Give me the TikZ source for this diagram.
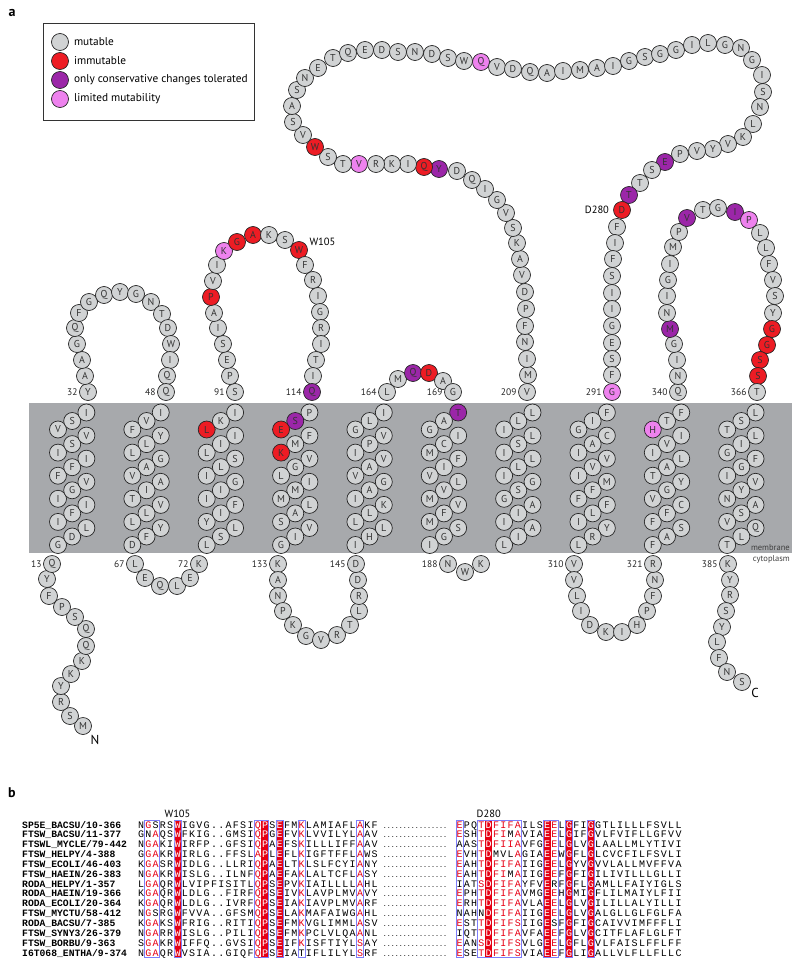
\documentclass[tikz,border=0pt]{standalone}
\usepackage{fontspec}
\setmainfont{PT Sans}
\newfontfamily\alnmono{Liberation Mono}
\usetikzlibrary{positioning}

\definecolor{mutgray}{RGB}{209,211,212}
\definecolor{immred}{RGB}{237,28,36}
\definecolor{conspurple}{RGB}{155,38,168}
\definecolor{limpink}{RGB}{238,130,238}
\definecolor{membran}{RGB}{167,169,172}
\definecolor{alnred}{RGB}{230,0,20}
\definecolor{alnblue}{RGB}{125,125,250}

\tikzset{
	mut/.style={circle, draw=black!85, line width=0.7pt, fill=mutgray, minimum size=17pt, inner sep=0pt, text=black!80, font=\fontsize{10}{10}\selectfont},
	imm/.style={mut, fill=immred},
	cons/.style={mut, fill=conspurple},
	lim/.style={mut, fill=limpink},
	numlab/.style={inner sep=0pt, text=black!85, font=\fontsize{9.5}{9.5}\selectfont},
	sitelab/.style={inner sep=0pt, font=\fontsize{10.5}{10.5}\selectfont},
	legtext/.style={inner sep=0pt, anchor=west, font=\fontsize{11.3}{11.3}\selectfont},
	memlab/.style={inner sep=0pt, anchor=east, text=black!75, font=\fontsize{8.5}{8.5}\selectfont},
	panel/.style={inner sep=0pt, font=\fontsize{14}{14}\selectfont\bfseries},
	term/.style={inner sep=0pt, font=\fontsize{13}{13}\selectfont},
	seqch/.style={inner sep=0pt, text height=6pt, text depth=0pt, font=\alnmono\fontsize{10}{10}\selectfont},
	alnname/.style={inner sep=0pt, anchor=west, text height=6pt, text depth=0pt, font=\alnmono\bfseries\fontsize{9.7}{10}\selectfont},
	alndots/.style={inner sep=0pt, text height=6pt, text depth=0pt, font=\alnmono\fontsize{6.7}{7}\selectfont},
	alnframe/.style={draw=alnblue, line width=0.6pt},
}

% Farbe der Reste (Standard: mut)
\foreach \rn/\rt in {88/imm, 97/imm, 101/imm, 102/imm, 105/imm, 117/imm, 120/imm, 167/imm, 226/imm, 233/imm, 280/imm, 362/imm, 363/imm, 364/imm, 365/imm,
	114/cons, 116/cons, 166/cons, 170/cons, 225/cons, 276/cons, 279/cons, 344/cons, 351/cons, 354/cons,
	100/lim, 230/lim, 249/lim, 291/lim, 337/lim, 355/lim}
	{\expandafter\xdef\csname rt\rn\endcsname{\rt}}
\newcommand\restype[1]{\ifcsname rt#1\endcsname\edef\ty{\csname rt#1\endcsname}\else\def\ty{mut}\fi}

% Schleifen: erste Nummer, Liste x/y/Buchstabe
\newcommand\loopres[2]{%
	\foreach \x/\y/\rl [count=\n from #1] in {#2} {
		\restype{\n}
		\node[\ty] (r\n) at (\x,\y) {\rl};
	}}

% Helix: Nummer, erster Rest, 1 = aufwaerts / 0 = abwaerts, Buchstaben
\newcommand\helix[4]{%
	\foreach \rl [count=\i from 0] in {#4} {
		\pgfmathtruncatemacro\k{#3==1 ? \i : 17-\i}
		\pgfmathtruncatemacro\n{#2+\i}
		\pgfmathsetmacro\hx{58+74.35*(#1-1)+14.2*mod(\k,3)}
		\pgfmathsetmacro\hy{545-7.7*\k-0.8*mod(\k,3)}
		\restype{\n}
		\node[\ty] (r\n) at (\hx,\hy) {\rl};
	}}

% Alignment: klein = rot, * = weiss auf rot
\newcount\seqcol
\newif\ifseqwhite
\newcommand\seqrow[4]{\def\seqname{#1}\def\seqx{#2}\def\seqy{#3}\global\seqcol=0 \seqwhitefalse\seqnext#4\relax}
\def\seqnext#1{%
	\ifx#1\relax\let\seqgo\relax
	\else\ifx#1*\seqwhitetrue\def\seqgo{\seqnext}%
	\else\def\seqgo{\seqput{#1}\seqnext}\fi\fi
	\seqgo}
\def\seqput#1{%
	\ifseqwhite\def\seqcolor{white}\else
		\ifnum`#1>`Z\relax\def\seqcolor{alnred}\else\def\seqcolor{black}\fi
	\fi
	\uppercase{\def\seqchar{#1}}%
	\node[seqch, text=\seqcolor] (\seqname c\the\seqcol) at (\seqx+7.3*\the\seqcol, \seqy) {\seqchar};
	\global\advance\seqcol by 1\relax
	\seqwhitefalse}
\newcommand\alnrow[4]{%
	\pgfmathsetmacro\ry{825+9.85*(#1-1)}
	\node[alnname] (name#1) at (22,\ry) {#2};
	\seqrow{p1r#1}{141}{\ry}{#3}
	\node[alndots] (dots#1) at (415,\ry) {................};
	\seqrow{p2r#1}{459.5}{\ry}{#4}}
\newcommand\alnfill[2]{\fill[alnred] ({#1+7.3*#2-3.65},820) rectangle ({#1+7.3*#2+3.65},957);}
\newcommand\alnbox[3]{\draw[alnframe] ({#1+7.3*#2-3.65},820) rectangle ({#1+7.3*#3+3.65},957);}

\begin{document}
\begin{tikzpicture}[x=1pt, y=-1pt]
	\useasboundingbox (0,0) rectangle (800,966);

	\node[panel] (pa) at (12,13) {a};

	% Legende
	\draw[line width=0.7pt, draw=black!80] (43,23) rectangle (254,120);
	\node[mut] (leg1) at (60,42) {};
	\node[imm] (leg2) at (60,61) {};
	\node[cons] (leg3) at (60,80) {};
	\node[lim] (leg4) at (60,99) {};
	\node[legtext, right=5pt of leg1] (legt1) {mutable};
	\node[legtext, right=5pt of leg2] (legt2) {immutable};
	\node[legtext, right=5pt of leg3] (legt3) {only conservative changes tolerated};
	\node[legtext, right=5pt of leg4] (legt4) {limited mutability};

	% Membran
	\fill[membran] (29,403) rectangle (792,553);
	\node[memlab] (memtxt) at (790,548) {membrane};
	\node[memlab] (cyttxt) at (790,559) {cytoplasm};

	% Helices
	\helix{1}{14}{1}{G,D,L,I,F,I,I,G,V,F,F,I,I,S,V,V,S,I}
	\helix{2}{49}{0}{I,V,F,Y,L,L,G,A,V,A,I,T,V,L,L,Y,F,D}
	\helix{3}{73}{1}{L,S,L,Y,I,F,I,I,G,I,L,S,L,I,I,L,K,I}
	\helix{4}{115}{0}{P,S,E,F,M,K,V,G,L,I,M,M,L,A,S,V,I,G}
	\helix{5}{146}{1}{I,H,L,L,L,K,I,A,G,V,A,V,I,P,V,G,L,I}
	\helix{6}{170}{0}{T,A,G,I,C,M,F,I,V,L,V,M,V,F,M,S,G,I}
	\helix{7}{191}{1}{L,I,A,I,I,A,G,S,G,I,L,L,I,S,L,I,L,L}
	\helix{8}{292}{0}{F,I,G,C,A,I,V,V,I,M,F,F,F,L,I,Y,R,L}
	\helix{9}{322}{1}{F,A,S,F,F,C,V,G,Y,T,A,L,I,V,I,H,T,F}
	\helix{10}{367}{0}{L,S,T,L,I,G,F,G,I,V,Y,N,A,S,V,Q,L,T}

	% Schleifen
	\loopres{1}{83/726/M, 70/716/S, 61/702/R, 61/686/Y, 71/674/K, 82/661/K, 86/646/Q, 86/629/Q, 75/617/S, 62/607/P, 49/596/F, 47/579/Y, 52/564/Q}
	\loopres{32}{88/392/Y, 85/376/A, 82/360/A, 77/344/G, 75/328/Q, 79/313/F, 89/302/G, 104/295/Q, 120/292/Y, 136/294/G, 151/302/N, 162/314/T, 168/328/D, 171/344/W, 170/360/I, 167/376/Q, 166/392/Q}
	\loopres{67}{135/564/L, 145/578/E, 160/586/Q, 177/586/L, 190/578/E, 199/564/K}
	\loopres{91}{235/392/S, 230/376/P, 227/360/E, 223/344/S, 218/328/I, 214/313/A, 211/297/P, 213/281/V, 217/265/I, 224/251/K, 237/242/G, 253/235/A, 269/235/K, 285/240/S, 299/250/W, 305/265/F, 313/280/R, 318/296/I, 320/312/G, 321/328/R, 321/344/I, 316/360/T, 313/376/I, 312/392/Q}
	\loopres{133}{278/564/K, 278/580/A, 278/596/N, 283/611/P, 293/625/K, 306/636/G, 321/640/V, 337/635/R, 350/625/T, 359/611/L, 359/596/R, 358/580/D, 356/564/D}
	\loopres{164}{387/392/L, 398/379/M, 413/373/Q, 429/373/D, 443/381/A, 453/392/G}
	\loopres{188}{448/564/N, 465/572/W, 481/564/K}
	\loopres{209}{527/392/V, 528/375/M, 527/359/I, 525/342/N, 525/326/F, 526/309/P, 525/292/D, 522/275/V, 520/259/A, 517/243/K, 513/228/S, 506/213/V, 497/200/G, 485/189/I, 472/180/Q, 457/171/D, 439/169/Y, 424/167/Q, 408/164/I, 392/164/K, 376/164/R, 359/164/V, 343/164/T, 328/157/S, 315/147/W, 303/135/V, 293/122/S, 292/106/A, 297/90/S, 305/78/N, 318/68/E, 333/58/T, 348/53/Q, 365/50/E, 382/50/D, 398/52/S, 415/52/N, 432/54/D, 448/58/S, 464/61/W, 481/62/Q, 497/67/V, 513/69/D, 530/72/Q, 547/73/A, 563/71/I, 580/70/M, 597/68/A, 613/66/I, 629/61/G, 645/57/S, 660/54/G, 676/50/G, 692/45/I, 708/43/L, 725/45/G, 741/48/N, 752/60/G, 762/75/I, 763/92/S, 760/107/N, 753/124/L, 743/137/K, 728/144/V, 713/149/Y, 697/151/V, 680/154/P, 665/162/E, 652/170/S, 640/183/T, 629/195/T, 622/210/D, 617/227/F, 615/243/I, 613/259/F, 612/276/S, 612/293/I, 612/309/I, 612/326/G, 612/343/E, 612/359/S, 612/375/F, 612/392/G}
	\loopres{310}{574/564/V, 574/580/V, 577/596/L, 581/611/I, 590/625/D, 606/632/K, 622/632/I, 637/625/H, 647/611/P, 653/596/F, 655/580/N, 653/564/R}
	\loopres{340}{678/392/Q, 678/376/N, 677/360/I, 674/344/G, 670/329/M, 667/313/N, 667/296/I, 668/280/G, 670/264/I, 673/247/M, 679/232/P, 687/218/V, 703/210/T, 718/208/G, 735/212/I, 749/220/P, 760/233/L, 766/248/L, 769/264/F, 773/280/V, 775/296/S, 773/313/Y, 772/329/G, 767/345/G, 760/360/S, 758/376/S, 757/392/T}
	\loopres{385}{728/564/K, 730/580/Y, 730/595/R, 726/611/S, 722/627/Y, 717/642/L, 719/658/F, 727/672/N, 742/682/S}

	% Nummern
	\foreach \nl in {13,32,48,67,72,91,114,133,145,164,169,188,209,291,310,321,340,366,385}
		\node[numlab, left=1.5pt of r\nl] (l\nl) {\nl};
	\node[sitelab, right=1.5pt of r105, yshift=8pt] (w105) {W105};
	\node[sitelab, left=4pt of r280] (d280) {D280};
	\node[term] (nterm) at (95,740) {N};
	\node[term] (cterm) at (755,693) {C};

	% Alignment
	\node[panel] (pb) at (12,793) {b};
	\alnfill{141}{5} \alnfill{141}{17} \alnfill{141}{19}
	\alnfill{459.5}{4} \alnfill{459.5}{12} \alnfill{459.5}{15} \alnfill{459.5}{18}
	\alnbox{141}{1}{2} \alnbox{141}{5}{5} \alnbox{141}{16}{17} \alnbox{141}{19}{19} \alnbox{141}{22}{22} \alnbox{141}{30}{30}
	\alnbox{459.5}{0}{0} \alnbox{459.5}{3}{8} \alnbox{459.5}{12}{13} \alnbox{459.5}{15}{15} \alnbox{459.5}{18}{18}
	\alnrow{1}{SP5E\_BACSU/10-366}{NgSRS*WIGVG..AFSIq*PS*EFMkLAMIAFLaKF}{ePQt*DfifaILS*EeL*GFI*GGTLILLLFSVLL}
	\alnrow{2}{FTSW\_BACSU/11-377}{GNaQS*WFKIG..GMSIq*PG*EFVkLVVILYLaAV}{eSHt*DfiMaVIA*EeL*GIF*GVLFVIFLLGFVV}
	\alnrow{3}{FTSWL\_MYCLE/79-442}{NgaKI*WIRFP..GFSIq*PA*EFSkILLLIFFaAV}{AASt*DfiiaVFG*EeL*GLV*GLAALLMLYTIVI}
	\alnrow{4}{FTSW\_HELPY/4-388}{GgaKR*WIRLG..FFSLa*PL*EFLkIGFTFFLaWS}{eVHt*DMVLaGIA*EeW*GFL*GLCVCFILFSVLI}
	\alnrow{5}{FTSW\_ECOLI/46-403}{KgaSR*WIDLG..LLRIq*PA*ELTkLSLFCYIaNY}{eAHt*DfifaIIG*EeL*GYV*GVVLALLMVFFVA}
	\alnrow{6}{FTSW\_HAEIN/26-383}{NgaKR*WISLG..ILNFq*PA*EFAkLALTCFLaSY}{eAHt*DfiMaIIG*EeF*GFI*GILIVILLLGLLI}
	\alnrow{7}{RODA\_HELPY/1-357}{LgaQR*WLVIPFISITLq*PS*EPVkIAILLLLaHL}{IATs*DfifaYFV*ERF*GFL*GAMLLFAIYIGLS}
	\alnrow{8}{RODA\_HAEIN/19-366}{KgaQR*WLDLG..FIRFq*PS*EIVkLAVPLMVaVY}{ePHt*DfifaVMG*EeH*GMI*GFLILMAIYLFII}
	\alnrow{9}{RODA\_ECOLI/20-364}{KgaQR*WLDLG..IVRFq*PS*EIAkIAVPLMVaRF}{eRHt*DfifaVLA*EeL*GLV*GILILLALYILLI}
	\alnrow{10}{FTSW\_MYCTU/58-412}{NgSRG*WFVVA..GFSMq*PS*ELAkMAFAIWGaHL}{NAHN*DfifaIIG*EeL*GLV*GALGLLGLFGLFA}
	\alnrow{11}{RODA\_BACSU/7-385}{KgaKS*WFRIG..RITIq*PS*EFMkVGLIMMLaSV}{eSTt*DfifsIIG*ESF*GFI*GCAIVVIMFFFLI}
	\alnrow{12}{FTSW\_SYNY3/26-379}{NgaRR*WISLG..PILIq*PS*EFMkPCLVLQAaNL}{IQTt*DfifaVFA*EeF*GLV*GCITFLAFLGLFT}
	\alnrow{13}{FTSW\_BORBU/9-363}{SgaKR*WIFFQ..GVSIq*PS*EIFkISFTIYLsAY}{eANs*DfifsVLG*EeL*GFL*GVLFAISLFFLFF}
	\alnrow{14}{I6T068\_ENTHA/9-374}{NgaQR*WVSIA..GIQFq*PS*EIATIFLILYLsRF}{eSEt*DfifsVIA*EeF*GLI*GALLVLFLLFLLC}
	\node[sitelab, above=4pt of p1r1c5] (alnw) {W105};
	\node[sitelab, above=4pt of p2r1c4] (alnd) {D280};
\end{tikzpicture}
\end{document}
